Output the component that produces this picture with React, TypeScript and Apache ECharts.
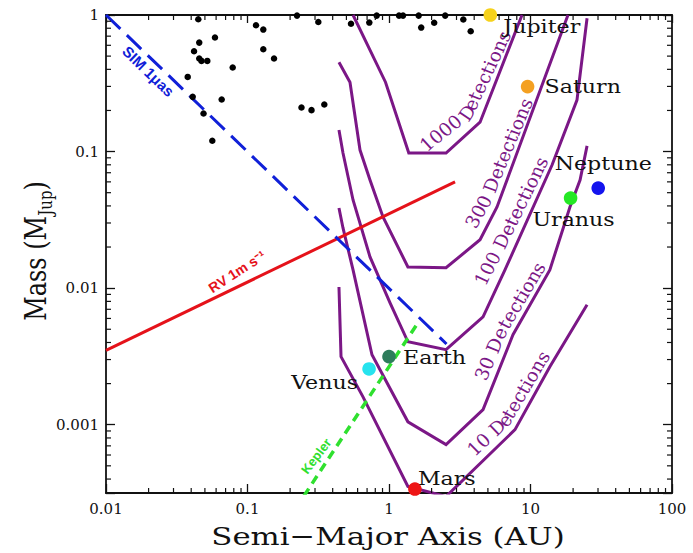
import React, { useEffect, useRef } from 'react';
import * as echarts from 'echarts';

// ---------------- data ----------------
const X_MIN = 0.01;
const X_MAX = 100;
const Y_MIN = Math.pow(10, -3.5);
const Y_MAX = 1;

// detection-count contours [semi-major axis (AU), mass (M_Jup)]
const curve1000 = [[0.557, 1.0], [0.945, 0.322], [1.38, 0.0975], [2.53, 0.0975], [4.4, 0.164], [8.71, 1.0]];
const curve300 = [[0.443, 0.451], [0.53, 0.322], [0.624, 0.1026], [0.734, 0.0619], [0.907, 0.0332], [1.36, 0.0143], [2.53, 0.0141], [4.4, 0.0226], [5.8, 0.0393], [18.4, 1.0]];
const curve100 = [[0.443, 0.1436], [0.473, 0.0975], [0.557, 0.0442], [0.734, 0.01694], [1.017, 0.00781], [1.36, 0.00405], [2.53, 0.00354], [4.62, 0.00617], [6.6, 0.0136], [14.2, 0.0797], [21.3, 0.238], [25.1, 0.946]];
const curve30 = [[0.443, 0.0386], [0.473, 0.0276], [0.557, 0.0136], [0.758, 0.00325], [1.36, 0.00105], [2.53, 0.000715], [4.62, 0.00129], [7.52, 0.00456], [13.7, 0.0136], [19.0, 0.0393], [22.4, 0.0619], [25.1, 0.11]];
const curve10 = [[0.443, 0.0102], [0.458, 0.00315], [0.655, 0.0016], [1.36, 0.000353], [2.53, 0.000298], [7.77, 0.00092], [13.7, 0.00266], [25.1, 0.00755]];
const contourNames = ['1000 Detections', '300 Detections', '100 Detections', '30 Detections', '10 Detections'];
const contours = [curve1000, curve300, curve100, curve30, curve10];

// sensitivity limits
const simLine = [[0.01, 1.0], [2.55, 0.0039]];
const rvLine = [[0.01, 0.0035], [2.93, 0.06]];
const keplerLine = [[0.25, 0.0003], [1.57, 0.0054]];

// known exoplanets
const exoA = [0.0449, 0.1148, 0.1293, 0.2238, 0.3166, 0.0589, 0.0456, 0.0419, 0.0456, 0.0473, 0.052, 0.1293, 0.154, 0.0786, 0.0378, 0.041, 0.0657, 0.0489, 0.0564, 0.2407, 0.2834, 0.349, 0.5388, 0.7258, 0.8187, 1.177, 1.256, 1.621, 1.689, 2.086, 2.495, 3.351, 3.779];
const exoMass = [0.93, 0.841, 0.782, 0.99, 0.889, 0.684, 0.628, 0.543, 0.48, 0.461, 0.461, 0.561, 0.48, 0.4125, 0.352, 0.2516, 0.2408, 0.19, 0.12, 0.2104, 0.2011, 0.2213, 0.862, 0.88, 0.99, 0.99, 0.99, 0.99, 0.809, 0.877, 0.99, 0.926, 0.76];

// solar system planets
const planetNames = ['Venus', 'Earth', 'Mars', 'Jupiter', 'Saturn', 'Uranus', 'Neptune'];
const planetA = [0.723, 1.0, 1.524, 5.2, 9.54, 19.2, 30.1];
const planetMass = [0.00256, 0.00315, 0.000338, 1.0, 0.299, 0.0457, 0.054];

// ---------------- styles / layout ----------------
const INK = '#111111';
const PURPLE = '#7b1786';
const BLUE = '#1020d8';
const RED = '#e5121a';
const GREEN = '#2fe02f';
const SERIF = '"DejaVu Serif", serif';
const SANS = '"Liberation Sans", Arial, sans-serif';
const STRETCH = 1.23;

const planetColors = ['#26e3ee', '#2e7d5c', '#ee1515', '#f6d21c', '#f4a021', '#25e825', '#1414ee'];
// [dx, dy, align]
const planetLabelPos: [number, number, string][] = [
  [-11, 14, 'right'],
  [14, 1, 'left'],
  [3, -10, 'left'],
  [13, 12, 'left'],
  [17, 0, 'left'],
  [3, 22, 'center'],
  [5, -24, 'center'],
];

const contourLabelCfg = [
  { from: 3, s0: -14, gap0: 20, gap1: 9 },
  { from: 7, s0: 7, gap0: 15, gap1: 9 },
  { from: 7, s0: 28, gap0: 17, gap1: 11 },
  { from: 6, s0: 27, gap0: 14, gap1: 11 },
  { from: 4, s0: 48, gap0: 15, gap1: 11 },
];
// straight labels: start offset along the line, normal gap, extra tilt (degrees)
const lineLabels = [
  { text: 'SIM 1\u03bcas', line: simLine, s0: 37, gap: -11, tilt: 0, font: `bold 15px ${SANS}`, fill: BLUE },
  { text: 'RV 1m s\u207b\u00b9', line: rvLine, s0: 120, gap: 10, tilt: 7, font: `bold 14px ${SANS}`, fill: RED },
  { text: 'Kepler', line: keplerLine, s0: 20, gap: 13, tilt: -4, font: `bold 13px ${SANS}`, fill: GREEN },
];

// ---------------- helpers ----------------
let measureCtx: CanvasRenderingContext2D | null = null;
function measure(text: string, font: string): number {
  if (!measureCtx) measureCtx = document.createElement('canvas').getContext('2d');
  if (!measureCtx) return text.length * 8;
  measureCtx.font = font;
  return measureCtx.measureText(text).width;
}

function charEl(ch: string, x: number, y: number, r: number, font: string, fill: string) {
  return {
    type: 'text',
    x,
    y,
    rotation: r,
    silent: true,
    style: { text: ch, font, fill, align: 'center', verticalAlign: 'middle', textAlign: 'center', textVerticalAlign: 'middle' },
  };
}

function textAlongPath(pts: number[][], text: string, s0: number, gap0: number, gap1: number, font: string, fill: string) {
  const cum = [0];
  let total = 0;
  for (let i = 1; i < pts.length; i++) {
    total += Math.hypot(pts[i][0] - pts[i - 1][0], pts[i][1] - pts[i - 1][1]);
    cum.push(total);
  }
  const at = (s: number) => {
    const n = pts.length;
    if (s <= 0) {
      const [x0, y0] = pts[0];
      const [x1, y1] = pts[1];
      const L = Math.hypot(x1 - x0, y1 - y0) || 1;
      return [x0 + ((x1 - x0) / L) * s, y0 + ((y1 - y0) / L) * s];
    }
    if (s >= total) {
      const [x0, y0] = pts[n - 2];
      const [x1, y1] = pts[n - 1];
      const L = Math.hypot(x1 - x0, y1 - y0) || 1;
      const e = s - total;
      return [x1 + ((x1 - x0) / L) * e, y1 + ((y1 - y0) / L) * e];
    }
    let i = 1;
    while (cum[i] < s) i++;
    const t = (s - cum[i - 1]) / (cum[i] - cum[i - 1] || 1);
    return [pts[i - 1][0] + (pts[i][0] - pts[i - 1][0]) * t, pts[i - 1][1] + (pts[i][1] - pts[i - 1][1]) * t];
  };
  const chars = Array.from(text);
  const widths = chars.map((c) => measure(c, font));
  const totalW = widths.reduce((a, b) => a + b, 0);
  const els: any[] = [];
  let acc = 0;
  const win = 9;
  chars.forEach((ch, k) => {
    const w = widths[k];
    const sc = s0 + acc + w / 2;
    const frac = (acc + w / 2) / (totalW || 1);
    acc += w;
    if (ch === ' ') return;
    const p = at(sc);
    const a = at(sc - win);
    const b = at(sc + win);
    const r = Math.atan2(-(b[1] - a[1]), b[0] - a[0]);
    const gap = gap0 + (gap1 - gap0) * frac;
    els.push(charEl(ch, p[0] - Math.sin(r) * gap, p[1] - Math.cos(r) * gap, r, font, fill));
  });
  return els;
}

// text along a straight line starting at arc length s0, optionally tilted
function textAlongLine(p0: number[], p1: number[], text: string, s0: number, gap: number, tiltDeg: number, font: string, fill: string) {
  const L = Math.hypot(p1[0] - p0[0], p1[1] - p0[1]) || 1;
  const dx = (p1[0] - p0[0]) / L;
  const dy = (p1[1] - p0[1]) / L;
  const r0 = Math.atan2(-dy, dx);
  const start = [p0[0] + dx * s0 - Math.sin(r0) * gap, p0[1] + dy * s0 - Math.cos(r0) * gap];
  const r = r0 + (tiltDeg * Math.PI) / 180;
  const ex = Math.cos(r);
  const ey = -Math.sin(r);
  const els: any[] = [];
  let acc = 0;
  Array.from(text).forEach((ch) => {
    const w = measure(ch, font);
    const c = acc + w / 2;
    acc += w;
    if (ch === ' ') return;
    els.push(charEl(ch, start[0] + ex * c, start[1] + ey * c, r, font, fill));
  });
  return els;
}

const logLabel = (v: number) => {
  const l = Math.log10(v);
  if (Math.abs(l - Math.round(l)) > 1e-6) return '';
  return String(parseFloat(v.toPrecision(6)));
};

function buildOption() {
  const xMinor: number[][] = [];
  for (let d = -2; d <= 1; d++) for (let k = 2; k <= 9; k++) xMinor.push([k * Math.pow(10, d), Y_MIN, 0]);
  const yMinor: number[][] = [];
  for (let d = -4; d <= -1; d++)
    for (let k = 2; k <= 9; k++) {
      const v = k * Math.pow(10, d);
      if (v > Y_MIN && v < Y_MAX) yMinor.push([X_MIN, v, 1]);
    }

  const xAxisBase = {
    type: 'log',
    logBase: 10,
    min: X_MIN,
    max: X_MAX,
    axisLine: { show: true, onZero: false, lineStyle: { color: INK, width: 1.8 } },
    axisTick: { show: true, inside: true, length: 9, lineStyle: { color: INK, width: 1.3 } },
    splitLine: { show: false },
    minorTick: { show: false },
    minorSplitLine: { show: false },
  };
  const yAxisBase = { ...xAxisBase, min: Y_MIN, max: Y_MAX };
  const tickLabel = { color: INK, fontFamily: SERIF, fontSize: 15, formatter: logLabel };

  const contourSeries = contours.map((c, i) => ({
    type: 'line',
    name: contourNames[i],
    data: c,
    xAxisIndex: 0,
    yAxisIndex: 0,
    showSymbol: false,
    symbol: 'none',
    clip: true,
    z: 2,
    lineStyle: { color: PURPLE, width: 3, join: 'miter' },
    silent: true,
  }));

  const wYa = measure('Mass (M', `24px ${SERIF}`);
  const wYb = measure('Jup', `15px ${SERIF}`);
  const wYc = measure(')', `24px ${SERIF}`);
  const wY = wYa + wYb + wYc;

  return {
    animation: false,
    backgroundColor: '#ffffff',
    grid: { left: 106, right: 21, top: 15, bottom: 60, containLabel: false },
    xAxis: [
      { ...xAxisBase, position: 'bottom', axisLabel: { ...tickLabel, margin: 8 } },
      { ...xAxisBase, position: 'top', axisLabel: { show: false }, axisTick: { ...xAxisBase.axisTick, length: 8 } },
    ],
    yAxis: [
      { ...yAxisBase, position: 'left', axisLabel: { ...tickLabel, margin: 7 } },
      { ...yAxisBase, position: 'right', axisLabel: { show: false }, axisTick: { ...yAxisBase.axisTick, length: 9 } },
    ],
    graphic: [
      {
        type: 'text',
        x: 388,
        y: 537,
        scaleX: STRETCH,
        silent: true,
        style: { text: 'Semi\u2212Major Axis (AU)', font: `25px ${SERIF}`, fill: INK, align: 'center', verticalAlign: 'middle', textAlign: 'center', textVerticalAlign: 'middle' },
      },
      {
        type: 'group',
        x: 36,
        y: 251,
        rotation: Math.PI / 2,
        scaleY: STRETCH,
        silent: true,
        children: [
          { type: 'text', x: -wY / 2, y: 0, style: { text: 'Mass (M', font: `24px ${SERIF}`, fill: INK, align: 'left', verticalAlign: 'middle', textAlign: 'left', textVerticalAlign: 'middle' } },
          { type: 'text', x: -wY / 2 + wYa, y: 8, style: { text: 'Jup', font: `15px ${SERIF}`, fill: INK, align: 'left', verticalAlign: 'middle', textAlign: 'left', textVerticalAlign: 'middle' } },
          { type: 'text', x: -wY / 2 + wYa + wYb, y: 0, style: { text: ')', font: `24px ${SERIF}`, fill: INK, align: 'left', verticalAlign: 'middle', textAlign: 'left', textVerticalAlign: 'middle' } },
        ],
      },
    ],
    series: [
      ...contourSeries,
      {
        type: 'line',
        name: 'RV 1m/s',
        data: rvLine,
        showSymbol: false,
        symbol: 'none',
        z: 3,
        silent: true,
        lineStyle: { color: RED, width: 3 },
      },
      {
        type: 'line',
        name: 'SIM',
        data: simLine,
        showSymbol: false,
        symbol: 'none',
        z: 3,
        silent: true,
        lineStyle: { color: BLUE, width: 3, type: [20, 9], cap: 'butt' },
      },
      {
        type: 'line',
        name: 'Kepler',
        data: keplerLine,
        showSymbol: false,
        symbol: 'none',
        z: 3,
        silent: true,
        clip: true,
        lineStyle: { color: GREEN, width: 3.5, type: [9, 6], cap: 'butt' },
      },
      {
        type: 'scatter',
        name: 'Exoplanets',
        data: exoA.map((a, i) => [a, exoMass[i]]),
        symbol: 'circle',
        symbolSize: 6.5,
        z: 4,
        silent: true,
        itemStyle: { color: '#000000', opacity: 1 },
      },
      {
        type: 'custom',
        name: 'minor ticks',
        data: [...xMinor, ...yMinor],
        z: 6,
        silent: true,
        renderItem: (params: any, api: any) => {
          const cs = params.coordSys;
          const kind = api.value(2);
          const st = { stroke: INK, lineWidth: 1.2 };
          if (kind === 0) {
            const px = api.coord([api.value(0), Y_MIN])[0];
            return {
              type: 'group',
              children: [
                { type: 'line', shape: { x1: px, y1: cs.y + cs.height, x2: px, y2: cs.y + cs.height - 5 }, style: st },
                { type: 'line', shape: { x1: px, y1: cs.y, x2: px, y2: cs.y + 5 }, style: st },
              ],
            };
          }
          const py = api.coord([X_MIN, api.value(1)])[1];
          return {
            type: 'group',
            children: [
              { type: 'line', shape: { x1: cs.x, y1: py, x2: cs.x + 5, y2: py }, style: st },
              { type: 'line', shape: { x1: cs.x + cs.width, y1: py, x2: cs.x + cs.width - 5, y2: py }, style: st },
            ],
          };
        },
      },
      {
        type: 'custom',
        name: 'planets',
        data: planetA.map((a, i) => [a, planetMass[i], i]),
        z: 8,
        silent: true,
        renderItem: (params: any, api: any) => {
          const i = api.value(2);
          const c = api.coord([api.value(0), api.value(1)]);
          const [dx, dy, align] = planetLabelPos[i];
          return {
            type: 'group',
            children: [
              { type: 'circle', shape: { cx: c[0], cy: c[1], r: 6.8 }, style: { fill: planetColors[i] } },
              {
                type: 'text',
                x: c[0] + dx,
                y: c[1] + dy,
                scaleX: STRETCH,
                style: { text: planetNames[i], font: `18px ${SERIF}`, fill: INK, align, verticalAlign: 'middle', textAlign: align, textVerticalAlign: 'middle' },
              },
            ],
          };
        },
      },
      {
        type: 'custom',
        name: 'contour labels',
        data: contours.map((_, i) => [1, 0.01, i]),
        z: 7,
        silent: true,
        renderItem: (params: any, api: any) => {
          const i = api.value(2);
          const cfg = contourLabelCfg[i];
          const pts = contours[i].slice(cfg.from).map((p) => api.coord(p));
          return {
            type: 'group',
            children: textAlongPath(pts, contourNames[i], cfg.s0, cfg.gap0, cfg.gap1, `18.5px ${SERIF}`, PURPLE),
          };
        },
      },
      {
        type: 'custom',
        name: 'line labels',
        data: lineLabels.map((_, i) => [1, 0.01, i]),
        z: 7,
        silent: true,
        renderItem: (params: any, api: any) => {
          const i = api.value(2);
          const cfg = lineLabels[i];
          const p0 = api.coord(cfg.line[0]);
          const p1 = api.coord(cfg.line[cfg.line.length - 1]);
          return {
            type: 'group',
            children: textAlongLine(p0, p1, cfg.text, cfg.s0, cfg.gap, cfg.tilt, cfg.font, cfg.fill),
          };
        },
      },
    ],
  };
}

export default function App() {
  const ref = useRef<HTMLDivElement>(null);
  useEffect(() => {
    const el = ref.current;
    if (!el) return;
    const chart = echarts.init(el, null, { renderer: 'svg' });
    chart.setOption(buildOption() as any);
    return () => chart.dispose();
  }, []);
  return (
    <div
      ref={ref}
      style={{ position: 'fixed', left: 0, top: 0, width: 693, height: 553, background: '#ffffff' }}
    />
  );
}
